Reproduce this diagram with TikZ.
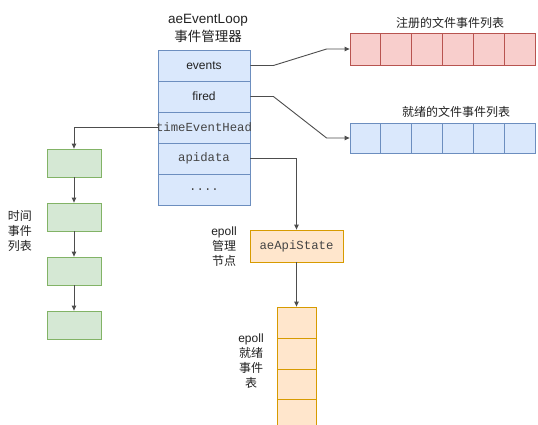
\documentclass[tikz,border=0pt]{standalone}
\usepackage{fontspec}
\setmainfont{Liberation Sans}
\setmonofont{Liberation Mono}
\newfontfamily\cjk{Noto Sans CJK SC}
\usetikzlibrary{arrows.meta,calc}
\definecolor{bfill}{HTML}{DAE8FC}\definecolor{bline}{HTML}{6C8EBF}
\definecolor{rfill}{HTML}{F8CECC}\definecolor{rline}{HTML}{B85450}
\definecolor{gfill}{HTML}{D5E8D4}\definecolor{gline}{HTML}{82B366}
\definecolor{ofill}{HTML}{FFE6CC}\definecolor{oline}{HTML}{D79B00}
\definecolor{conn}{HTML}{4D4D4D}
\definecolor{txt}{HTML}{222222}
\definecolor{mtxt}{HTML}{444444}
\tikzset{
  cellb/.style={draw=bline,fill=bfill,line width=0.8pt,minimum width=92pt,minimum height=31pt,inner sep=0pt,text=txt,font=\fontsize{12}{14}\selectfont},
  mono/.style={text=mtxt,font=\ttfamily\fontsize{12.3}{14}\selectfont},
  rcell/.style={draw=rline,fill=rfill,line width=0.8pt,minimum width=30.83pt,minimum height=32pt,inner sep=0pt},
  lcell/.style={draw=bline,fill=bfill,line width=0.8pt,minimum width=30.83pt,minimum height=30pt,inner sep=0pt},
  gbox/.style={draw=gline,fill=gfill,line width=0.8pt,minimum width=54pt,minimum height=28pt,inner sep=0pt},
  obox/.style={draw=oline,fill=ofill,line width=0.8pt,inner sep=0pt},
  wire/.style={draw=conn,line width=0.9pt},
  arr/.style={wire,-{Triangle[length=5pt,width=4.5pt]}},
  lab/.style={font=\cjk\fontsize{12}{15}\selectfont,align=center,inner sep=0pt,text=txt},
}
\begin{document}
\begin{tikzpicture}[x=1pt,y=-1pt]
\useasboundingbox (0,0) rectangle (538,425);
\fill[white] (0,0) rectangle (538,425);
% title
\node[lab,font=\fontsize{13.5}{16}\selectfont] (t1) at (208,20) {aeEventLoop};
\node[lab,font=\cjk\fontsize{13.5}{16}\selectfont] (t2) at (208,36) {事件管理器};
% main stack
\node[cellb] (ev) at (204,65.5) {events};
\node[cellb] (fi) at (204,96.5) {fired};
\node[cellb,mono] (teh) at (204,127.5) {\makebox[80pt][c]{timeEventHead}};
\node[cellb,mono] (api) at (204,158.5) {apidata};
\node[cellb,mono] (dots) at (204,189.5) {....};
% registered list
\node[lab] (rl) at (450,23) {注册的文件事件列表};
\foreach \i in {1,...,6} {
  \node[rcell] (r\i) at ({350+30.83*(\i-0.5)},49) {};
}
% ready list
\node[lab] (bl) at (456,112) {就绪的文件事件列表};
\foreach \i in {1,...,6} {
  \node[lcell] (b\i) at ({350+30.83*(\i-0.5)},138) {};
}
% time events
\node[gbox] (g1) at (74,163) {};
\node[gbox] (g2) at (74,217) {};
\node[gbox] (g3) at (74,271) {};
\node[gbox] (g4) at (74,325) {};
\node[lab] (gl) at (20,231) {时间\\事件\\列表};
% epoll
\node[obox,mono,minimum width=93pt,minimum height=32pt] (aes) at (296.5,246) {aeApiState};
\node[lab] (el) at (224,246.5) {\fontspec{Liberation Sans}epoll\\管理\\节点};
\node[lab] (el2) at (251,361) {\fontspec{Liberation Sans}epoll\\就绪\\事件\\表};
\begin{scope}
\clip (0,0) rectangle (538,425);
\node[obox,minimum width=39pt,minimum height=31pt] (e1) at (296.5,322.5) {};
\node[obox,minimum width=39pt,minimum height=31pt] (e2) at (296.5,353.5) {};
\node[obox,minimum width=39pt,minimum height=30pt] (e3) at (296.5,384) {};
\node[obox,minimum width=39pt,minimum height=31pt] (e4) at (296.5,414.5) {};
\end{scope}
% connectors
\draw[arr] (ev.east) -- ++(23,0) -- ($(r1.west)+(-23,0)$) -- (r1.west);
\draw[arr] (fi.east) -- ++(23,0) -- ($(b1.west)+(-23,0)$) -- (b1.west);
\draw[arr] (teh.west) -| (g1.north);
\draw[arr] (g1) -- (g2);
\draw[arr] (g2) -- (g3);
\draw[arr] (g3) -- (g4);
\draw[arr] (api.east) -| (aes.north);
\draw[arr] (aes.south) -- (e1.north);
\end{tikzpicture}
\end{document}
